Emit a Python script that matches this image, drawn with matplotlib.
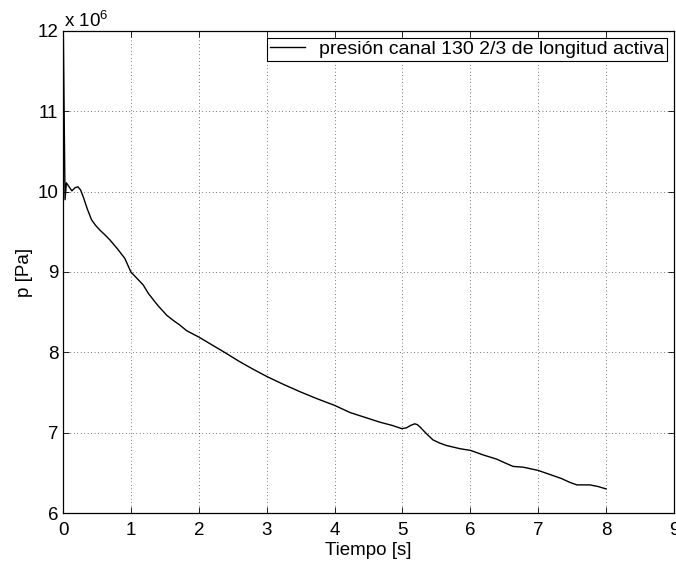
import matplotlib
matplotlib.use("Agg")
import matplotlib.pyplot as plt

plt.rcParams['font.family'] = ['Liberation Sans', 'DejaVu Sans']
plt.rcParams['mathtext.fontset'] = 'custom'
plt.rcParams['mathtext.rm'] = 'Liberation Sans'
plt.rcParams['mathtext.it'] = 'Liberation Sans'

# ── data (pressure in units of 1e6 Pa) ───────────────────────────────────────
tiempo = [0.0, 0.005, 0.03, 0.05, 0.09, 0.13, 0.18, 0.22, 0.26, 0.30, 0.36,
          0.42, 0.48, 0.545, 0.62, 0.69, 0.80, 0.91, 1.0, 1.09, 1.18, 1.26,
          1.40, 1.53, 1.62, 1.72, 1.82, 2.0, 2.18, 2.36, 2.61, 2.8, 3.0,
          3.25, 3.49, 3.75, 4.0, 4.23, 4.45, 4.67, 4.85, 4.99, 5.06, 5.12,
          5.18, 5.22, 5.26, 5.35, 5.45, 5.55, 5.65, 5.85, 6.0, 6.2, 6.39,
          6.52, 6.63, 6.78, 7.0, 7.17, 7.34, 7.47, 7.57, 7.66, 7.76, 7.88,
          8.0]
presion = [10.5, 11.95, 9.90, 10.11, 10.06, 10.01, 10.05, 10.06, 10.02,
           9.93, 9.78, 9.65, 9.58, 9.52, 9.46, 9.40, 9.29, 9.17, 9.00, 8.92,
           8.84, 8.73, 8.58, 8.46, 8.40, 8.34, 8.27, 8.19, 8.10, 8.01, 7.88,
           7.79, 7.70, 7.60, 7.51, 7.42, 7.34, 7.25, 7.19, 7.13, 7.09, 7.05,
           7.06, 7.09, 7.11, 7.10, 7.07, 6.99, 6.91, 6.87, 6.84, 6.80, 6.78,
           6.72, 6.67, 6.62, 6.58, 6.57, 6.53, 6.48, 6.43, 6.38, 6.35, 6.35,
           6.35, 6.33, 6.30]

x_ticks = list(range(0, 10))
y_ticks = list(range(6, 13))

fig = plt.figure(figsize=(6.76, 5.63), dpi=100)
ax = fig.add_axes([0.0932, 0.0888, 0.9038, 0.8562])

ax.plot(tiempo, presion, color='black', linewidth=1.0,
        label='presión canal 130 2/3 de longitud activa')

ax.set_xlim(0, 9)
ax.set_ylim(6, 12)
ax.set_xticks(x_ticks)
ax.set_yticks(y_ticks)
ax.tick_params(direction='in', top=True, right=True, labelsize=13.5,
               length=4, width=0.6)
ax.tick_params(axis='x', pad=6.5)
ax.tick_params(axis='y', pad=3.5)
ax.grid(True, color='black', linestyle=(0, (1, 4)), linewidth=0.5)
for s in ax.spines.values():
    s.set_linewidth(0.9)

ax.set_xlabel('Tiempo [s]', fontsize=13.5, labelpad=2)
ax.set_ylabel('p [Pa]', fontsize=13.5, labelpad=3)
ax.text(0.002, 1.0, r'x 10$^{6}$', transform=ax.transAxes,
        fontsize=13.5, ha='left', va='bottom')

leg = ax.legend(loc='upper right', fontsize=14, fancybox=False,
                framealpha=1, edgecolor='black', handlelength=1.8,
                borderpad=0.15, borderaxespad=0.35, handletextpad=0.7)
leg.get_frame().set_linewidth(0.8)

fig.savefig('out.png', dpi=100)
